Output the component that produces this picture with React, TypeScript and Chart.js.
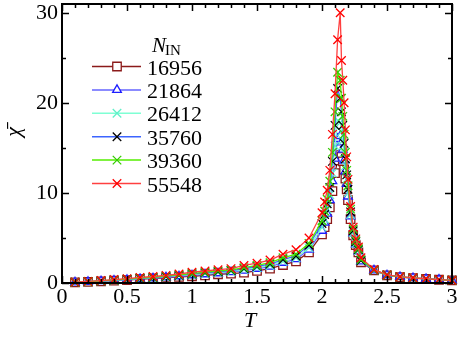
import React, { useEffect, useRef } from "react";
import { Chart, registerables } from "chart.js";

Chart.register(...registerables);

// Temperature grid
const T = [
  0.1, 0.2, 0.3, 0.4, 0.5, 0.6, 0.7, 0.8, 0.9, 1.0, 1.1, 1.2, 1.3, 1.4, 1.5, 1.6, 1.7, 1.8, 1.9,
  2.0, 2.02, 2.04, 2.06, 2.08, 2.1, 2.12, 2.14, 2.15, 2.16, 2.17, 2.18, 2.19, 2.2, 2.22, 2.24, 2.26, 2.28, 2.3,
  2.4, 2.5, 2.6, 2.7, 2.8, 2.9, 3.0,
];

const chi16956 = [
  0.07, 0.12, 0.18, 0.26, 0.33, 0.42, 0.5, 0.58, 0.68, 0.75, 0.85, 0.97, 1.05, 1.15, 1.35, 1.6, 2.0, 2.4, 3.4,
  5.4, 6.2, 7.1, 8.4, 10.2, 12.2, 13.6, 14.2, 14, 13.5, 12.6, 11.6, 10.4, 9.2, 7.1, 5.3, 4.2, 3.4, 2.3,
  1.4, 0.85, 0.66, 0.55, 0.45, 0.36, 0.3,
];
const chi21864 = [
  0.08, 0.13, 0.2, 0.28, 0.36, 0.45, 0.53, 0.63, 0.75, 0.86, 0.97, 1.08, 1.2, 1.38, 1.58, 1.82, 2.25, 2.65, 3.7,
  5.8, 6.7, 7.7, 9.2, 11.3, 13.8, 16, 16.3, 15.6, 14.8, 13.6, 12.4, 11, 9.6, 7.4, 5.5, 4.3, 3.5, 2.4,
  1.4, 0.86, 0.67, 0.55, 0.45, 0.37, 0.3,
];
const chi26412 = [
  0.08, 0.14, 0.21, 0.3, 0.38, 0.48, 0.56, 0.67, 0.8, 0.92, 1.04, 1.16, 1.28, 1.48, 1.7, 1.95, 2.4, 2.8, 3.9,
  6.2, 7.1, 8.2, 9.8, 12.2, 15.2, 18, 17.8, 16.8, 15.8, 14.5, 13, 11.5, 10, 7.6, 5.6, 4.4, 3.6, 2.5,
  1.45, 0.87, 0.68, 0.56, 0.46, 0.37, 0.3,
];
const chi35760 = [
  0.09, 0.15, 0.23, 0.32, 0.41, 0.52, 0.6, 0.72, 0.85, 1.0, 1.12, 1.25, 1.38, 1.6, 1.85, 2.1, 2.6, 3.0, 4.2,
  6.6, 7.6, 8.8, 10.6, 13.5, 17.5, 21.6, 20.5, 19, 17.5, 15.5, 13.8, 12, 10.4, 7.9, 5.8, 4.6, 3.7, 2.5,
  1.45, 0.88, 0.68, 0.56, 0.46, 0.37, 0.3,
];
const chi39360 = [
  0.09, 0.16, 0.24, 0.34, 0.43, 0.55, 0.64, 0.76, 0.9, 1.05, 1.2, 1.32, 1.45, 1.7, 1.95, 2.25, 2.8, 3.2, 4.4,
  6.9, 8.0, 9.3, 11.3, 14.5, 19, 23.4, 22.5, 20.5, 18.5, 16.5, 14.5, 12.5, 10.8, 8.2, 6.0, 4.7, 3.8, 2.6,
  1.45, 0.88, 0.68, 0.56, 0.46, 0.37, 0.3,
];
const chi55548 = [
  0.1, 0.18, 0.27, 0.38, 0.48, 0.62, 0.72, 0.85, 1.0, 1.2, 1.33, 1.48, 1.6, 1.95, 2.2, 2.55, 3.2, 3.7, 5.0,
  7.8, 9.0, 10.3, 12.5, 16.5, 21, 27, 30, 24.7, 22.5, 20, 17, 14, 11.5, 8.5, 6.2, 4.9, 4.0, 2.8,
  1.5, 0.9, 0.7, 0.58, 0.47, 0.38, 0.3,
];

const seriesNames = ["16956", "21864", "26412", "35760", "39360", "55548"];
const seriesValues = [chi16956, chi21864, chi26412, chi35760, chi39360, chi55548];
const lineColors = ["#8b1a1a", "#6464ff", "#7fffd4", "#3c64ff", "#55ee00", "#ff4040"];
const markerColors = ["#8b1a1a", "#1e1eff", "#5ff0c8", "#000000", "#33cc00", "#ff0000"];
const markerStyles = ["rect", "triangle", "crossRot", "crossRot", "crossRot", "crossRot"];
const markerRadii = [6, 5, 6, 6, 6, 6];

const xTicks = [0, 0.5, 1, 1.5, 2, 2.5, 3];
const xMinorStep = 0.1;
const yTicks = [0, 10, 20, 30];
const yMinor = [5, 15, 25];
const xMin = 0;
const xMax = 3;
const yMin = 0;
const yMax = 30.97;
const xTitle = "T";
const yTitle = "\u03c7\u0304";

const SERIF = '"Liberation Serif", "DejaVu Serif", serif';

function drawMarker(ctx: CanvasRenderingContext2D, style: string, x: number, y: number, r: number, color: string) {
  ctx.save();
  ctx.strokeStyle = color;
  ctx.fillStyle = "#fff";
  ctx.lineWidth = 1.3;
  ctx.beginPath();
  if (style === "rect") {
    const s = Math.SQRT1_2 * r;
    ctx.rect(x - s, y - s, 2 * s, 2 * s);
    ctx.fill();
    ctx.stroke();
  } else if (style === "triangle") {
    const a = (2 * Math.PI) / 3;
    ctx.moveTo(x, y - r);
    ctx.lineTo(x + Math.sin(a) * r, y - Math.cos(a) * r);
    ctx.lineTo(x - Math.sin(a) * r, y - Math.cos(a) * r);
    ctx.closePath();
    ctx.fill();
    ctx.stroke();
  } else {
    const d = Math.SQRT1_2 * r;
    ctx.moveTo(x - d, y - d);
    ctx.lineTo(x + d, y + d);
    ctx.moveTo(x - d, y + d);
    ctx.lineTo(x + d, y - d);
    ctx.stroke();
  }
  ctx.restore();
}

const framePlugin = {
  id: "frameTicks",
  afterDatasetsDraw(chart: any) {
    const { ctx, chartArea: a, scales } = chart;
    const xs = scales.x;
    const ys = scales.y;
    ctx.save();
    ctx.strokeStyle = "#000";
    ctx.lineWidth = 1.5;
    ctx.beginPath();
    const nMinor = Math.round((xMax - xMin) / xMinorStep);
    for (let i = 0; i <= nMinor; i++) {
      const v = xMin + i * xMinorStep;
      const isMajor = xTicks.some((t) => Math.abs(t - v) < 1e-6);
      const len = isMajor ? 7 : 4;
      const px = Math.round(xs.getPixelForValue(v)) + 0.5;
      ctx.moveTo(px, a.bottom);
      ctx.lineTo(px, a.bottom - len);
      ctx.moveTo(px, a.top);
      ctx.lineTo(px, a.top + len);
    }
    const yAll = [...yTicks.map((v) => [v, 7]), ...yMinor.map((v) => [v, 4])];
    for (const [v, len] of yAll) {
      const py = Math.round(ys.getPixelForValue(v)) + 0.5;
      ctx.moveTo(a.left, py);
      ctx.lineTo(a.left + len, py);
      ctx.moveTo(a.right, py);
      ctx.lineTo(a.right - len, py);
    }
    ctx.stroke();
    ctx.lineWidth = 2;
    ctx.strokeRect(a.left, a.top, a.right - a.left, a.bottom - a.top);
    ctx.restore();
  },
  afterDraw(chart: any) {
    const ctx: CanvasRenderingContext2D = chart.ctx;
    ctx.save();
    ctx.fillStyle = "#000";
    // axis titles
    ctx.font = `italic 22px ${SERIF}`;
    ctx.textAlign = "center";
    ctx.textBaseline = "middle";
    ctx.fillText(xTitle, 250, 321);
    ctx.save();
    ctx.translate(14, 132);
    ctx.rotate(-Math.PI / 2);
    ctx.fillText(yTitle, 0, 0);
    ctx.restore();

    // legend
    ctx.textBaseline = "alphabetic";
    ctx.textAlign = "left";
    ctx.font = `italic 21px ${SERIF}`;
    ctx.fillText("N", 152, 52);
    const nW = ctx.measureText("N").width;
    ctx.font = `15px ${SERIF}`;
    ctx.fillText("IN", 152 + nW - 1, 55);
    const rowStart = 66.5;
    const rowStep = 23.4;
    for (let i = 0; i < seriesNames.length; i++) {
      const y = rowStart + i * rowStep;
      ctx.strokeStyle = lineColors[i];
      ctx.lineWidth = 1.5;
      ctx.beginPath();
      ctx.moveTo(92, y);
      ctx.lineTo(141, y);
      ctx.stroke();
      drawMarker(ctx, markerStyles[i], 117, y, markerRadii[i], markerColors[i]);
      ctx.fillStyle = "#000";
      ctx.font = `22px ${SERIF}`;
      ctx.fillText(seriesNames[i], 147, y + 8);
    }
    ctx.restore();
  },
};

export default function App() {
  const canvasRef = useRef<HTMLCanvasElement | null>(null);

  useEffect(() => {
    const canvas = canvasRef.current;
    if (!canvas) return;
    const datasets = seriesNames.map((name, i) => ({
      label: name,
      data: T.map((t, j) => ({ x: t, y: seriesValues[i][j] })),
      borderColor: lineColors[i],
      borderWidth: 1.3,
      pointStyle: markerStyles[i],
      pointRadius: markerRadii[i],
      pointBorderColor: markerColors[i],
      pointBackgroundColor: "#ffffff",
      pointBorderWidth: 1.3,
      pointHoverRadius: markerRadii[i],
      tension: 0,
      fill: false,
      clip: false as any,
      order: seriesNames.length - i,
    }));

    const chart = new Chart(canvas, {
      type: "line",
      data: { datasets },
      options: {
        animation: false,
        responsive: false,
        devicePixelRatio: 1,
        events: [],
        layout: { autoPadding: false, padding: { left: 0, top: 4, right: 6, bottom: 0 } },
        plugins: { legend: { display: false }, tooltip: { enabled: false } },
        scales: {
          x: {
            type: "linear",
            min: xMin,
            max: xMax,
            grid: { display: false, drawTicks: false },
            border: { display: false },
            afterBuildTicks: (s: any) => {
              s.ticks = xTicks.map((v) => ({ value: v }));
            },
            afterFit: (s: any) => {
              s.height = 54;
              s.paddingLeft = 0;
              s.paddingRight = 0;
            },
            ticks: {
              color: "#000",
              padding: 1,
              maxRotation: 0,
              autoSkip: false,
              font: { family: SERIF, size: 22 },
              callback: (v: any) => `${Number(v)}`,
            },
            title: { display: false },
          },
          y: {
            type: "linear",
            min: yMin,
            max: yMax,
            grid: { display: false, drawTicks: false },
            border: { display: false },
            afterBuildTicks: (s: any) => {
              s.ticks = yTicks.map((v) => ({ value: v }));
            },
            afterFit: (s: any) => {
              s.width = 62;
              s.paddingTop = 0;
              s.paddingBottom = 0;
            },
            ticks: {
              color: "#000",
              padding: 4,
              autoSkip: false,
              font: { family: SERIF, size: 22 },
              callback: (v: any) => `${Number(v)}`,
            },
            title: { display: false },
          },
        },
      } as any,
      plugins: [framePlugin as any],
    });
    return () => {
      chart.destroy();
    };
  }, []);

  return (
    <div style={{ position: "fixed", left: 0, top: 0, width: 458, height: 337, background: "#fff" }}>
      <canvas ref={canvasRef} width={458} height={337} style={{ display: "block", width: 458, height: 337 }} />
    </div>
  );
}
